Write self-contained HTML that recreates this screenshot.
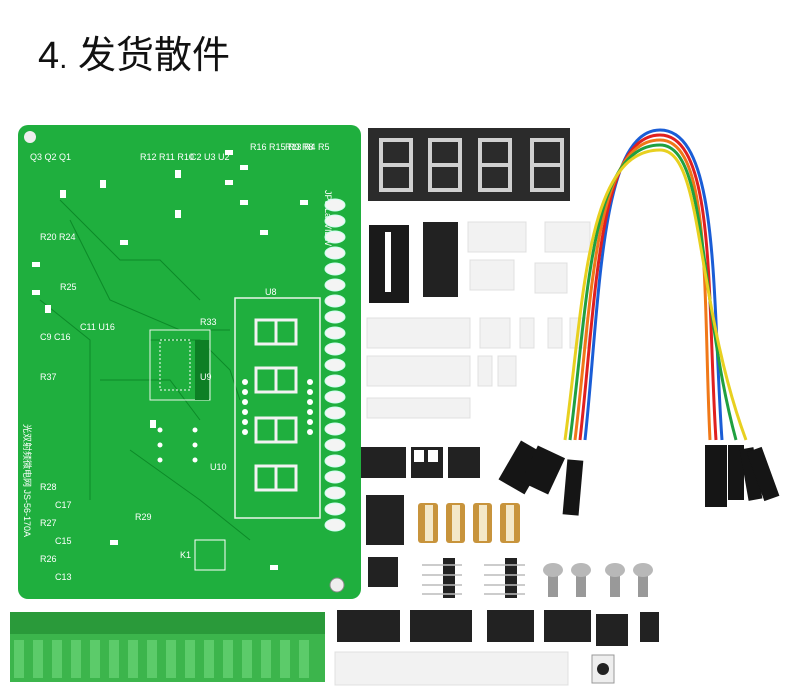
<!DOCTYPE html><html><head><meta charset="utf-8"><style>body{margin:0;background:#fff}svg{display:block}</style></head><body>
<svg width="800" height="694" viewBox="0 0 800 694" xmlns="http://www.w3.org/2000/svg" font-family="Liberation Sans, Noto Sans CJK SC, sans-serif">
<rect width="800" height="694" fill="#fff"/>
<text x="38" y="68" font-size="38" fill="#111">4<tspan font-size="30">.</tspan> 发货散件</text>
<!-- PCB -->
<rect x="18" y="125" width="343" height="474" rx="10" fill="#1faf3e"/>
<g stroke="#0c8a28" stroke-width="1" fill="none">
<path d="M60 200 L120 260 L160 260 L200 300"/><path d="M70 220 L110 300 L180 330 L230 330"/><path d="M150 340 L200 340 L230 370 L240 400"/><path d="M100 380 L170 380 L200 420"/><path d="M40 300 L90 340 L90 500"/><path d="M130 450 L200 500 L250 540"/>
</g>
<g fill="#f2f2f2">
<rect x="150" y="330" width="60" height="70" fill="none" stroke="#e8f5e8" stroke-width="1"/>
<rect x="195" y="340" width="14" height="60" fill="#0d7f25"/>
<rect x="160" y="340" width="30" height="50" fill="none" stroke="#fff" stroke-width="1" stroke-dasharray="2 2"/>
</g>
<g font-size="9" fill="#fff">
<text x="30" y="160">Q3 Q2 Q1</text><text x="140" y="160">R12 R11 R10</text><text x="190" y="160">C2 U3 U2</text><text x="250" y="150">R16 R15 R9 R8</text><text x="285" y="150">R13 R4 R5</text>
<text x="40" y="240">R20 R24</text><text x="60" y="290">R25</text><text x="40" y="340">C9 C16</text><text x="40" y="380">R37</text><text x="80" y="330">C11 U16</text>
<text x="40" y="490">R28</text><text x="55" y="508">C17</text><text x="40" y="526">R27</text><text x="55" y="544">C15</text><text x="40" y="562">R26</text><text x="55" y="580">C13</text>
<text x="265" y="295">U8</text><text x="200" y="380">U9</text><text x="210" y="470">U10</text><text x="135" y="520">R29</text><text x="180" y="558">K1</text><text x="200" y="325">R33</text>
<text x="325" y="190" transform="rotate(90 325 190)">JP3 LabVIEW</text>
<text x="18" y="430" font-size="9" transform="rotate(90 24 430)">光双射频微电网 JS-56-170A</text>
</g>
<g fill="#fff"><rect x="32" y="262" width="8" height="5"/><rect x="32" y="290" width="8" height="5"/><rect x="45" y="305" width="6" height="8"/><rect x="60" y="190" width="6" height="8"/><rect x="100" y="180" width="6" height="8"/><rect x="120" y="240" width="8" height="5"/><rect x="175" y="170" width="6" height="8"/><rect x="175" y="210" width="6" height="8"/><rect x="225" y="150" width="8" height="5"/><rect x="225" y="180" width="8" height="5"/><rect x="240" y="165" width="8" height="5"/><rect x="240" y="200" width="8" height="5"/><rect x="260" y="230" width="8" height="5"/><rect x="300" y="200" width="8" height="5"/><rect x="150" y="420" width="6" height="8"/><rect x="110" y="540" width="8" height="5"/><rect x="270" y="565" width="8" height="5"/></g>
<rect x="235" y="298" width="85" height="220" fill="none" stroke="#e8f5e8" stroke-width="1.5"/>
<g stroke="#f2f2f2" stroke-width="3" fill="none">
<rect x="256" y="320" width="40" height="24"/><line x1="276" y1="320" x2="276" y2="344"/>
<rect x="256" y="368" width="40" height="24"/><line x1="276" y1="368" x2="276" y2="392"/>
<rect x="256" y="418" width="40" height="24"/><line x1="276" y1="418" x2="276" y2="442"/>
<rect x="256" y="466" width="40" height="24"/><line x1="276" y1="466" x2="276" y2="490"/>
</g>
<g fill="#fff"><circle cx="245" cy="382" r="3"/><circle cx="245" cy="392" r="3"/><circle cx="245" cy="402" r="3"/><circle cx="245" cy="412" r="3"/><circle cx="245" cy="422" r="3"/><circle cx="245" cy="432" r="3"/><circle cx="310" cy="382" r="3"/><circle cx="310" cy="392" r="3"/><circle cx="310" cy="402" r="3"/><circle cx="310" cy="412" r="3"/><circle cx="310" cy="422" r="3"/><circle cx="310" cy="432" r="3"/>
<circle cx="195" cy="430" r="2.5"/><circle cx="195" cy="445" r="2.5"/><circle cx="195" cy="460" r="2.5"/><circle cx="160" cy="430" r="2.5"/><circle cx="160" cy="445" r="2.5"/><circle cx="160" cy="460" r="2.5"/></g>
<g fill="#f4f4f4" stroke="#cfe" stroke-width="1">
<ellipse cx="335" cy="205" rx="10" ry="6"/><ellipse cx="335" cy="221" rx="10" ry="6"/><ellipse cx="335" cy="237" rx="10" ry="6"/><ellipse cx="335" cy="253" rx="10" ry="6"/><ellipse cx="335" cy="269" rx="10" ry="6"/><ellipse cx="335" cy="285" rx="10" ry="6"/><ellipse cx="335" cy="301" rx="10" ry="6"/><ellipse cx="335" cy="317" rx="10" ry="6"/><ellipse cx="335" cy="333" rx="10" ry="6"/><ellipse cx="335" cy="349" rx="10" ry="6"/><ellipse cx="335" cy="365" rx="10" ry="6"/><ellipse cx="335" cy="381" rx="10" ry="6"/><ellipse cx="335" cy="397" rx="10" ry="6"/><ellipse cx="335" cy="413" rx="10" ry="6"/><ellipse cx="335" cy="429" rx="10" ry="6"/><ellipse cx="335" cy="445" rx="10" ry="6"/><ellipse cx="335" cy="461" rx="10" ry="6"/><ellipse cx="335" cy="477" rx="10" ry="6"/><ellipse cx="335" cy="493" rx="10" ry="6"/><ellipse cx="335" cy="509" rx="10" ry="6"/><ellipse cx="335" cy="525" rx="10" ry="6"/>
</g>
<circle cx="337" cy="585" r="7" fill="#eee" stroke="#888"/><circle cx="30" cy="137" r="6" fill="#eee"/>
<rect x="195" y="540" width="30" height="30" fill="none" stroke="#fff"/>
<!-- terminal blocks -->
<rect x="10" y="612" width="315" height="70" fill="#3cb54c"/>
<g fill="#2a9a3a"><rect x="10" y="612" width="315" height="22"/></g>
<g fill="#5ccb6a">
<rect x="14" y="640" width="10" height="38"/><rect x="33" y="640" width="10" height="38"/><rect x="52" y="640" width="10" height="38"/><rect x="71" y="640" width="10" height="38"/><rect x="90" y="640" width="10" height="38"/><rect x="109" y="640" width="10" height="38"/><rect x="128" y="640" width="10" height="38"/><rect x="147" y="640" width="10" height="38"/><rect x="166" y="640" width="10" height="38"/><rect x="185" y="640" width="10" height="38"/><rect x="204" y="640" width="10" height="38"/><rect x="223" y="640" width="10" height="38"/><rect x="242" y="640" width="10" height="38"/><rect x="261" y="640" width="10" height="38"/><rect x="280" y="640" width="10" height="38"/><rect x="299" y="640" width="10" height="38"/>
</g>
<!-- black display -->
<rect x="368" y="128" width="202" height="73" fill="#2b2b2b"/>
<g stroke="#d0d0d0" stroke-width="4" fill="none">
<rect x="381" y="140" width="30" height="50"/><line x1="381" y1="165" x2="411" y2="165"/>
<rect x="430" y="140" width="30" height="50"/><line x1="430" y1="165" x2="460" y2="165"/>
<rect x="480" y="140" width="30" height="50"/><line x1="480" y1="165" x2="510" y2="165"/>
<rect x="532" y="140" width="30" height="50"/><line x1="532" y1="165" x2="562" y2="165"/>
</g>
<!-- ICs -->
<rect x="369" y="225" width="40" height="78" fill="#1a1a1a"/><rect x="385" y="232" width="6" height="60" fill="#fff"/>
<rect x="423" y="222" width="35" height="75" fill="#222"/>
<g fill="#f2f2f2" stroke="#e0e0e0"><rect x="468" y="222" width="58" height="30"/><rect x="545" y="222" width="45" height="30"/><rect x="470" y="260" width="44" height="30"/><rect x="535" y="263" width="32" height="30"/>
<rect x="367" y="318" width="103" height="30"/><rect x="480" y="318" width="30" height="30"/><rect x="520" y="318" width="14" height="30"/><rect x="548" y="318" width="14" height="30"/><rect x="570" y="318" width="18" height="30"/>
<rect x="367" y="356" width="103" height="30"/><rect x="478" y="356" width="14" height="30"/><rect x="498" y="356" width="18" height="30"/><rect x="367" y="398" width="103" height="20"/>
<rect x="335" y="652" width="233" height="33"/></g>
<!-- cable -->
<g fill="none" stroke-width="3">
<path d="M585 440 C600 300 600 130 660 130 C720 130 712 300 722 440" stroke="#1a5dd6"/>
<path d="M580 440 C596 300 598 135 660 135 C716 135 707 300 716 440" stroke="#e02020"/>
<path d="M575 440 C592 300 594 140 660 140 C712 140 703 300 710 440" stroke="#f07818"/>
<path d="M570 440 C588 300 590 145 660 145 C708 145 698 300 736 440" stroke="#20a040"/>
<path d="M565 440 C584 300 586 150 660 150 C704 150 694 300 746 440" stroke="#e8d020"/>
</g>
<g fill="#151515">
<rect x="508" y="445" width="30" height="45" transform="rotate(30 523 467)"/><rect x="528" y="450" width="30" height="40" transform="rotate(25 543 470)"/><rect x="565" y="460" width="16" height="55" transform="rotate(5 573 487)"/>
<rect x="705" y="445" width="22" height="62"/><rect x="728" y="445" width="16" height="55"/><rect x="744" y="448" width="14" height="52" transform="rotate(-10 751 474)"/><rect x="755" y="448" width="16" height="52" transform="rotate(-20 763 474)"/>
</g>
<!-- small parts -->
<g fill="#222"><rect x="361" y="447" width="45" height="31"/><rect x="411" y="447" width="32" height="31"/><rect x="448" y="447" width="32" height="31"/>
<rect x="366" y="495" width="38" height="50"/><rect x="368" y="557" width="30" height="30"/>
<rect x="443" y="558" width="12" height="40"/><rect x="505" y="558" width="12" height="40"/>
<rect x="337" y="610" width="63" height="32"/><rect x="410" y="610" width="62" height="32"/><rect x="487" y="610" width="47" height="32"/><rect x="544" y="610" width="47" height="32"/><rect x="596" y="614" width="32" height="32"/><rect x="640" y="612" width="19" height="30"/>
<rect x="592" y="655" width="22" height="28" fill="#eee" stroke="#999"/><circle cx="603" cy="669" r="6"/></g>
<rect x="414" y="450" width="10" height="12" fill="#fff"/><rect x="428" y="450" width="10" height="12" fill="#fff"/>
<g fill="#c8943c"><rect x="418" y="503" width="20" height="40" rx="3"/><rect x="446" y="503" width="19" height="40" rx="3"/><rect x="473" y="503" width="19" height="40" rx="3"/><rect x="500" y="503" width="20" height="40" rx="3"/></g>
<g fill="#f4e8c8"><rect x="425" y="505" width="8" height="36"/><rect x="452" y="505" width="8" height="36"/><rect x="479" y="505" width="8" height="36"/><rect x="506" y="505" width="8" height="36"/></g>
<g fill="#999"><rect x="548" y="575" width="10" height="22"/><rect x="576" y="575" width="10" height="22"/><rect x="610" y="575" width="10" height="22"/><rect x="638" y="575" width="10" height="22"/></g>
<g fill="#b8b8b8"><ellipse cx="553" cy="570" rx="10" ry="7"/><ellipse cx="581" cy="570" rx="10" ry="7"/><ellipse cx="615" cy="570" rx="10" ry="7"/><ellipse cx="643" cy="570" rx="10" ry="7"/></g>
<g stroke="#bbb" stroke-width="1.5"><line x1="422" y1="565" x2="462" y2="565"/><line x1="422" y1="575" x2="462" y2="575"/><line x1="422" y1="585" x2="462" y2="585"/><line x1="422" y1="594" x2="462" y2="594"/><line x1="484" y1="565" x2="525" y2="565"/><line x1="484" y1="575" x2="525" y2="575"/><line x1="484" y1="585" x2="525" y2="585"/><line x1="484" y1="594" x2="525" y2="594"/></g>
</svg>
</body></html>
